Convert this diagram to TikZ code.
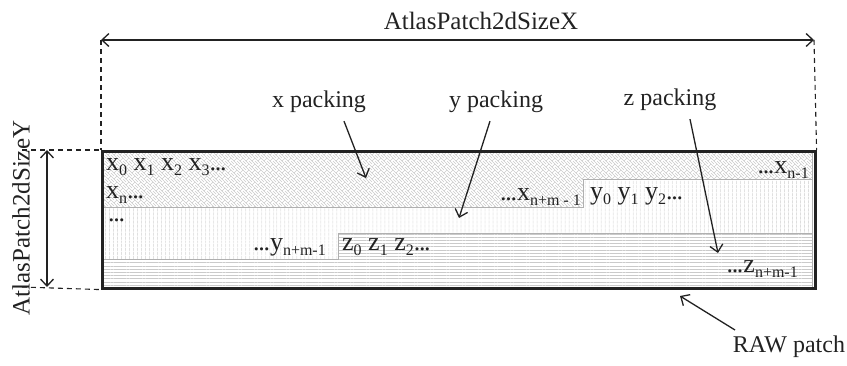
\documentclass[tikz,border=0pt]{standalone}
\usepackage{fontspec}
\setmainfont{Liberation Serif}
\usetikzlibrary{arrows.meta,patterns,patterns.meta}

% woven texture for the x region
\pgfdeclarepatternformonly{weave}{\pgfpoint{-0.5pt}{-0.5pt}}{\pgfpoint{6.5pt}{6.5pt}}{\pgfpoint{6pt}{6pt}}{%
  \pgfsetlinewidth{0.45pt}
  \pgfpathmoveto{\pgfpoint{0pt}{0pt}}\pgfpathlineto{\pgfpoint{3pt}{3pt}}
  \pgfpathmoveto{\pgfpoint{3pt}{3pt}}\pgfpathlineto{\pgfpoint{6pt}{0pt}}
  \pgfpathmoveto{\pgfpoint{0pt}{6pt}}\pgfpathlineto{\pgfpoint{3pt}{3pt}}
  \pgfpathmoveto{\pgfpoint{3pt}{6pt}}\pgfpathlineto{\pgfpoint{6pt}{3pt}}
  \pgfusepath{stroke}}

\definecolor{ink}{HTML}{222222}
\definecolor{hatch}{HTML}{CACACA}
\definecolor{edge}{HTML}{B0B0B0}

% upright lowered index
\newcommand{\idx}[1]{\raisebox{-5.5pt}[0pt][0pt]{\fontsize{16}{16}\selectfont #1}}
% tight ellipsis
\newcommand{\dts}{.\kern-1.3pt.\kern-1.3pt.}

\begin{document}
\begin{tikzpicture}[x=1pt,y=-1pt,
  txt/.style={inner sep=0pt,text=ink,font=\fontsize{26}{26}\selectfont},
  lbl/.style={inner sep=0pt,text=ink,font=\fontsize{24}{24}\selectfont},
  tip/.style={-{Straight Barb[length=7pt,width=13pt]}},
  pointer/.style={tip,draw=ink,line width=1.3pt},
  dim/.style={{Straight Barb[length=7pt,width=13pt]}-{Straight Barb[length=7pt,width=13pt]},draw=ink,line width=1.3pt},
  guide/.style={draw=ink,line width=1.1pt,dash pattern=on 5pt off 4pt},
  region/.style={draw=edge,line width=0.8pt}]
\useasboundingbox (0,0) rectangle (847,365);

% packing regions
\path[region,pattern=weave,pattern color=hatch]
  (101,150) -- (812,150) -- (812,179) -- (583,179) -- (583,207) -- (101,207) -- cycle;
\path[region,pattern={Lines[angle=90,distance=4pt,line width=0.5pt]},pattern color=hatch]
  (101,207) -- (583,207) -- (583,179) -- (812,179) -- (812,233) -- (338,233) -- (338,259) -- (101,259) -- cycle;
\path[region,pattern={Lines[angle=0,distance=3.2pt,line width=0.5pt]},pattern color=hatch]
  (101,259) -- (338,259) -- (338,233) -- (812,233) -- (812,287) -- (101,287) -- cycle;

% patch outline
\node[draw=ink,line width=2.6pt,minimum width=713pt,minimum height=137pt,inner sep=0pt,anchor=north west]
  (patch) at (101,150) {};

% sizes
\coordinate (tl) at (101,40);
\coordinate (tr) at (814,40);
\coordinate (lt) at (22,150);
\coordinate (lb) at (22,287);
\draw[guide] (tl) -- (patch.north west);
\draw[guide] (tr) -- (patch.north east);
\draw[guide] (lt) -- (patch.north west);
\draw[guide] (lb) -- (patch.south west);
\draw[dim] (tl) -- (tr);
\coordinate (vt) at (47,150);
\coordinate (vb) at (47,287);
\draw[dim] (vt) -- (vb);
\node[lbl,font=\fontsize{25}{25}\selectfont] (sx) at (481,21) {AtlasPatch2dSizeX};
\node[lbl,font=\fontsize{25}{25}\selectfont,rotate=90] (sy) at (21,218) {AtlasPatch2dSizeY};

% element labels
\node[txt,anchor=base west] (x0) at (106,170) {x\idx{0} x\idx{1} x\idx{2} x\idx{3}\dts};
\node[txt,anchor=base west] (xn) at (106,198) {x\idx{n}\dts};
\node[txt,anchor=base west,text height=4pt,text depth=0pt] (dots) at (108,221) {\dts};
\node[txt,anchor=base east] (xe) at (809,173) {\dts x\idx{n-1}};
\node[txt,anchor=base east] (xm) at (581,200) {\dts x\idx{n+m - 1}};
\node[txt,anchor=base west] (y0) at (590,199) {y\idx{0} y\idx{1} y\idx{2}\dts};
\node[txt,anchor=base east] (ym) at (326,250) {\dts y\idx{n+m-1}};
\node[txt,anchor=base west] (z0) at (342,250) {z\idx{0} z\idx{1} z\idx{2}\dts};
\node[txt,anchor=base east] (zm) at (798,272) {\dts z\idx{n+m-1}};

% packing pointers
\node[lbl] (px) at (319,102) {x packing};
\node[lbl] (py) at (496,102) {y packing};
\node[lbl] (pz) at (670,100) {z packing};
\coordinate (ax) at (366,178);
\coordinate (ay) at (459,218);
\coordinate (az) at (718,253);
\draw[pointer] (px.south -| 344,0) ++(0,8) -- (ax);
\draw[pointer] (py.south -| 490,0) ++(0,8) -- (ay);
\draw[pointer] (pz.south -| 690,0) ++(0,8) -- (az);

% raw patch pointer
\node[lbl] (raw) at (789,347) {RAW patch};
\coordinate (ar) at (680,296);
\draw[pointer] (735,330) -- (ar);
\end{tikzpicture}
\end{document}
